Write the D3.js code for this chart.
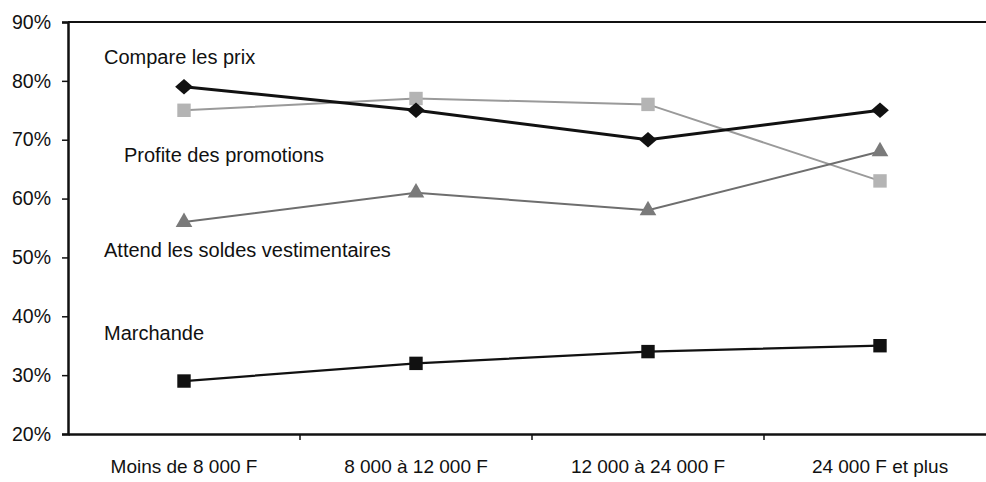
<html>
<head>
<meta charset="utf-8">
<title>Comportements d'achat selon le revenu</title>
<style>
  body { margin: 0; background: #fff; }
  text { font-family: "Liberation Sans", Arial, sans-serif; fill: #111; }
</style>
</head>
<body>
<script src="https://cdn.jsdelivr.net/npm/d3@7"></script>
<script>
    var width = 986;
    var height = 482;

    // tranches de revenu
    var categories = ["Moins de 8 000 F", "8 000 à 12 000 F", "12 000 à 24 000 F", "24 000 F et plus"];
    // valeurs en %
    var comparePrix = [79, 75, 70, 75];
    var profitePromos = [75, 77, 76, 63];
    var attendSoldes = [56, 61, 58, 68];
    var marchande = [29, 32, 34, 35];
    var yTicks = [20, 30, 40, 50, 60, 70, 80, 90];

    var series = [
        {name: "Profite des promotions", values: profitePromos, stroke: "#9a9a9a", width: 2, marker: "square", fill: "#b4b4b4", lx: 124, ly: 155},
        {name: "Attend les soldes vestimentaires", values: attendSoldes, stroke: "#6e6e6e", width: 2, marker: "triangle", fill: "#7a7a7a", lx: 104, ly: 250},
        {name: "Marchande", values: marchande, stroke: "#111", width: 2.2, marker: "square", fill: "#111", lx: 104, ly: 333},
        {name: "Compare les prix", values: comparePrix, stroke: "#111", width: 3, marker: "diamond", fill: "#111", lx: 104, ly: 57}
    ];

    var padding = {left: 68, top: 22, bottom: 48};

    var svg = d3.select("body").append("svg")
        .attr("width", width)
        .attr("height", height);

    var xScale = d3.scaleBand()
        .domain(categories)
        .range([padding.left, padding.left + 232 * 4]);

    var yScale = d3.scaleLinear()
        .domain([20, 90])
        .range([height - padding.bottom, padding.top]);

    // cadre du haut
    svg.append("line")
        .attr("x1", padding.left).attr("x2", width)
        .attr("y1", yScale(90)).attr("y2", yScale(90))
        .attr("stroke", "#111").attr("stroke-width", 2);

    // axe y
    var yAxis = d3.axisLeft(yScale)
        .tickValues(yTicks)
        .tickSize(6)
        .tickPadding(11)
        .tickFormat(function(d){ return d + "%"; });
    var gy = svg.append("g")
        .attr("transform", "translate(" + padding.left + ",0)")
        .call(yAxis);
    gy.select(".domain").attr("stroke-width", 2.5).attr("stroke", "#111");
    gy.selectAll(".tick line").attr("stroke", "#111").attr("stroke-width", 1.5);
    gy.selectAll("text").style("font-size", "19.5px");

    // axe x : traits entre les catégories
    var xAxis = d3.axisBottom(xScale).tickSize(0).tickPadding(26);
    var gx = svg.append("g")
        .attr("transform", "translate(0," + yScale(20) + ")")
        .call(xAxis);
    gx.select(".domain").attr("stroke-width", 2.5).attr("stroke", "#111");
    gx.selectAll("text").style("font-size", "19px");
    gx.selectAll(".sep")
        .data(categories.slice(1))
        .enter()
        .append("line")
        .attr("class", "sep")
        .attr("x1", function(d){ return xScale(d); })
        .attr("x2", function(d){ return xScale(d); })
        .attr("y1", 0).attr("y2", 6)
        .attr("stroke", "#111").attr("stroke-width", 1.5);

    var line = d3.line()
        .x(function(d, i){ return xScale(categories[i]) + xScale.bandwidth() / 2; })
        .y(function(d){ return yScale(d); });

    // losange plus plat que celui de d3
    var diamond = {
        draw: function(context, size) {
            var w = Math.sqrt(size) * 0.75, h = Math.sqrt(size) * 0.65;
            context.moveTo(-w, 0);
            context.lineTo(0, -h);
            context.lineTo(w, 0);
            context.lineTo(0, h);
            context.closePath();
        }
    };

    var symbols = {
        square: d3.symbol().type(d3.symbolSquare).size(180),
        diamond: d3.symbol().type(diamond).size(140),
        triangle: d3.symbol().type(d3.symbolTriangle).size(120)
    };

    series.forEach(function(s){
        svg.append("path")
            .datum(s.values)
            .attr("d", line)
            .attr("fill", "none")
            .attr("stroke", s.stroke)
            .attr("stroke-width", s.width);

        svg.selectAll(null)
            .data(s.values)
            .enter()
            .append("path")
            .attr("transform", function(d, i){
                return "translate(" + (xScale(categories[i]) + xScale.bandwidth() / 2) + "," + yScale(d) + ")";
            })
            .attr("d", symbols[s.marker])
            .attr("fill", s.fill);

        svg.append("text")
            .attr("x", s.lx)
            .attr("y", s.ly)
            .attr("dy", "0.35em")
            .style("font-size", "20px")
            .text(s.name);
    });
</script>
</body>
</html>
